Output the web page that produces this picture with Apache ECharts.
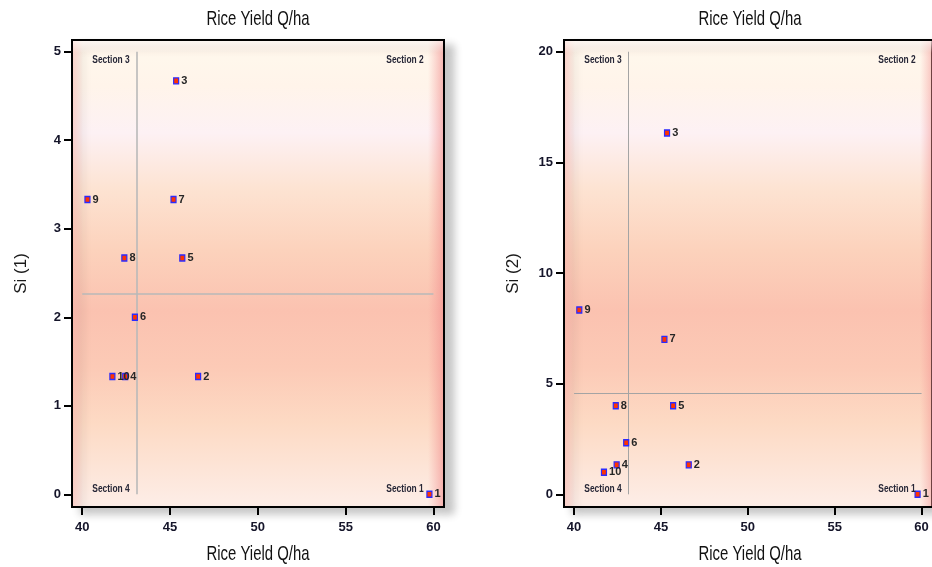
<!DOCTYPE html>
<html>
<head>
<meta charset="utf-8">
<script src="https://cdn.jsdelivr.net/npm/echarts@6/dist/echarts.min.js"></script>
<style>
html,body{margin:0;padding:0;background:#fff;}
#chart{width:932px;height:567px;}
</style>
</head>
<body>
<div id="chart"></div>
<script>
// ---- data ----
var pointIds   = ['1','2','3','4','5','6','7','8','9','10'];
var riceYield  = [59.77, 46.6, 45.35, 42.45, 45.7, 43.0, 45.2, 42.4, 40.3, 41.72];
var si1        = [0, 1.33, 4.67, 1.33, 2.67, 2.0, 3.33, 2.67, 3.33, 1.33];
var si2        = [0, 1.33, 16.33, 1.33, 4.0, 2.33, 7.0, 4.0, 8.33, 1.0];
var xTicks     = [40, 45, 50, 55, 60];
var si1Ticks   = [0, 1, 2, 3, 4, 5];
var si2Ticks   = [0, 5, 10, 15, 20];
var refYield   = 43.1;
var refSi      = [2.27, 4.56];
var sectionNames = ['Section 3', 'Section 2', 'Section 4', 'Section 1'];
var titleText  = 'Rice Yield Q/ha';
var xName      = 'Rice Yield Q/ha';
var yNames     = ['Si (1)', 'Si (2)'];

// ---- styling / layout ----
var REG = '"Liberation Sans", Arial, sans-serif';
var grids = [
  {left: 72, top: 40, width: 372, height: 467},
  {left: 564, top: 40, width: 372, height: 467}
];
var yRanges = [[-0.1435, 5.132], [-0.574, 20.53]];
var yTickSets = [si1Ticks, si2Ticks];
var siSets = [si1, si2];
var refStyles = [{color: '#b9b9b9', width: 1.6}, {color: '#a4a4a4', width: 1}];

var bg = new echarts.graphic.LinearGradient(0, 0, 0, 1, [
  {offset: 0.00, color: '#fdeee2'},
  {offset: 0.04, color: '#fff7ec'},
  {offset: 0.10, color: '#fff4ea'},
  {offset: 0.20, color: '#fdf1f4'},
  {offset: 0.32, color: '#fde3d2'},
  {offset: 0.45, color: '#fcd2bc'},
  {offset: 0.58, color: '#fbc2b0'},
  {offset: 0.70, color: '#fccab6'},
  {offset: 0.82, color: '#fddac4'},
  {offset: 0.93, color: '#fde6da'},
  {offset: 1.00, color: '#fdeee8'}
]);

var option = {
  animation: false,
  backgroundColor: '#ffffff',
  grid: grids.map(function (g) {
    return {
      left: g.left, top: g.top, width: g.width, height: g.height,
      show: true, backgroundColor: bg, borderColor: '#000', borderWidth: 2,
      shadowColor: 'rgba(0,0,0,0.22)', shadowBlur: 8, shadowOffsetX: 9, shadowOffsetY: 6
    };
  }),
  xAxis: grids.map(function (g, i) {
    return {
      type: 'value', gridIndex: i, min: 39.42, max: 60.6,
      axisLine: {show: true, onZero: false, lineStyle: {color: '#000', width: 2}},
      axisTick: {show: true, length: 8, customValues: xTicks, lineStyle: {color: '#000', width: 2}},
      axisLabel: {customValues: xTicks, margin: 14, fontFamily: REG, fontWeight: 'bold', fontSize: 13, color: '#15152a'},
      splitLine: {show: false}
    };
  }),
  yAxis: grids.map(function (g, i) {
    return {
      type: 'value', gridIndex: i, min: yRanges[i][0], max: yRanges[i][1],
      name: yNames[i], nameLocation: 'middle', nameGap: 42, nameRotate: 90,
      nameTextStyle: {fontFamily: REG, fontSize: 17, color: '#1a1a1a'},
      axisLine: {show: true, onZero: false, lineStyle: {color: '#000', width: 2}},
      axisTick: {show: true, length: 8, customValues: yTickSets[i], lineStyle: {color: '#000', width: 2}},
      axisLabel: {customValues: yTickSets[i], margin: 11, fontFamily: REG, fontWeight: 'bold', fontSize: 13, color: '#15152a'},
      splitLine: {show: false}
    };
  }),
  series: grids.map(function (g, i) {
    var ys = siSets[i];
    var yTop = yTickSets[i][yTickSets[i].length - 1];
    return {
      type: 'scatter', xAxisIndex: i, yAxisIndex: i,
      symbol: 'rect', symbolSize: [5, 6],
      itemStyle: {color: '#ff3300', borderColor: '#2b2bff', borderWidth: 1.3, opacity: 1},
      label: {
        show: true, position: 'right', distance: 2,
        formatter: function (p) { return p.data[2]; },
        fontFamily: REG, fontWeight: 'bold', fontSize: 11, color: '#262626'
      },
      data: riceYield.map(function (x, k) { return [x, ys[k], pointIds[k]]; }),
      markLine: {
        silent: true, symbol: 'none', animation: false,
        label: {show: false},
        lineStyle: {color: refStyles[i].color, width: refStyles[i].width, type: 'solid'},
        data: [
          [{coord: [refYield, 0]}, {coord: [refYield, yTop]}],
          [{coord: [xTicks[0], refSi[i]]}, {coord: [xTicks[xTicks.length - 1], refSi[i]]}]
        ]
      },
      z: 5
    };
  })
};

// decorative bevel overlays, section labels, titles and x-axis names
var graphics = [];
function narrowText(x, y, text, size, weight, fill, sx) {
  return {
    type: 'text', z: 10, silent: true, x: x, y: y, scaleX: sx,
    style: {x: 0, y: 0, text: text, align: 'center', verticalAlign: 'middle',
      fontFamily: REG, fontWeight: weight, fontSize: size, fill: fill}
  };
}
grids.forEach(function (g, i) {
  graphics.push({
    type: 'rect', z: 1, silent: true,
    shape: {x: g.left + g.width - 16, y: g.top + 1, width: 15, height: g.height - 2},
    style: {fill: new echarts.graphic.LinearGradient(0, 0, 1, 0, [
      {offset: 0, color: 'rgba(245,150,150,0)'},
      {offset: 1, color: 'rgba(240,140,140,0.6)'}
    ])}
  });
  graphics.push({
    type: 'rect', z: 1, silent: true,
    shape: {x: g.left + 1, y: g.top + 1, width: 10, height: g.height - 2},
    style: {fill: new echarts.graphic.LinearGradient(0, 0, 1, 0, [
      {offset: 0, color: 'rgba(245,170,165,0.45)'},
      {offset: 1, color: 'rgba(245,170,165,0)'}
    ])}
  });
  graphics.push({
    type: 'rect', z: 1, silent: true,
    shape: {x: g.left + 1, y: g.top + 1, width: g.width - 2, height: 12},
    style: {fill: new echarts.graphic.LinearGradient(0, 0, 0, 1, [
      {offset: 0, color: 'rgba(255,255,255,0.6)'},
      {offset: 1, color: 'rgba(255,255,255,0)'}
    ])}
  });
  var xl = g.left + 39, xr = g.left + 333, yt = g.top + 20, yb = g.top + 449;
  var pos = [[xl, yt], [xr, yt], [xl, yb], [xr, yb]];
  sectionNames.forEach(function (s, k) {
    graphics.push(narrowText(pos[k][0], pos[k][1], s, 10, 'bold', '#262636', 0.84));
  });
  graphics.push(narrowText(g.left + g.width / 2, 19, titleText, 21, 'normal', '#111111', 0.71));
  graphics.push(narrowText(g.left + g.width / 2, 554, xName, 21, 'normal', '#111111', 0.71));
});
option.graphic = {elements: graphics};

var chart = echarts.init(document.getElementById('chart'), null, {renderer: 'canvas'});
chart.setOption(option);
</script>
</body>
</html>
